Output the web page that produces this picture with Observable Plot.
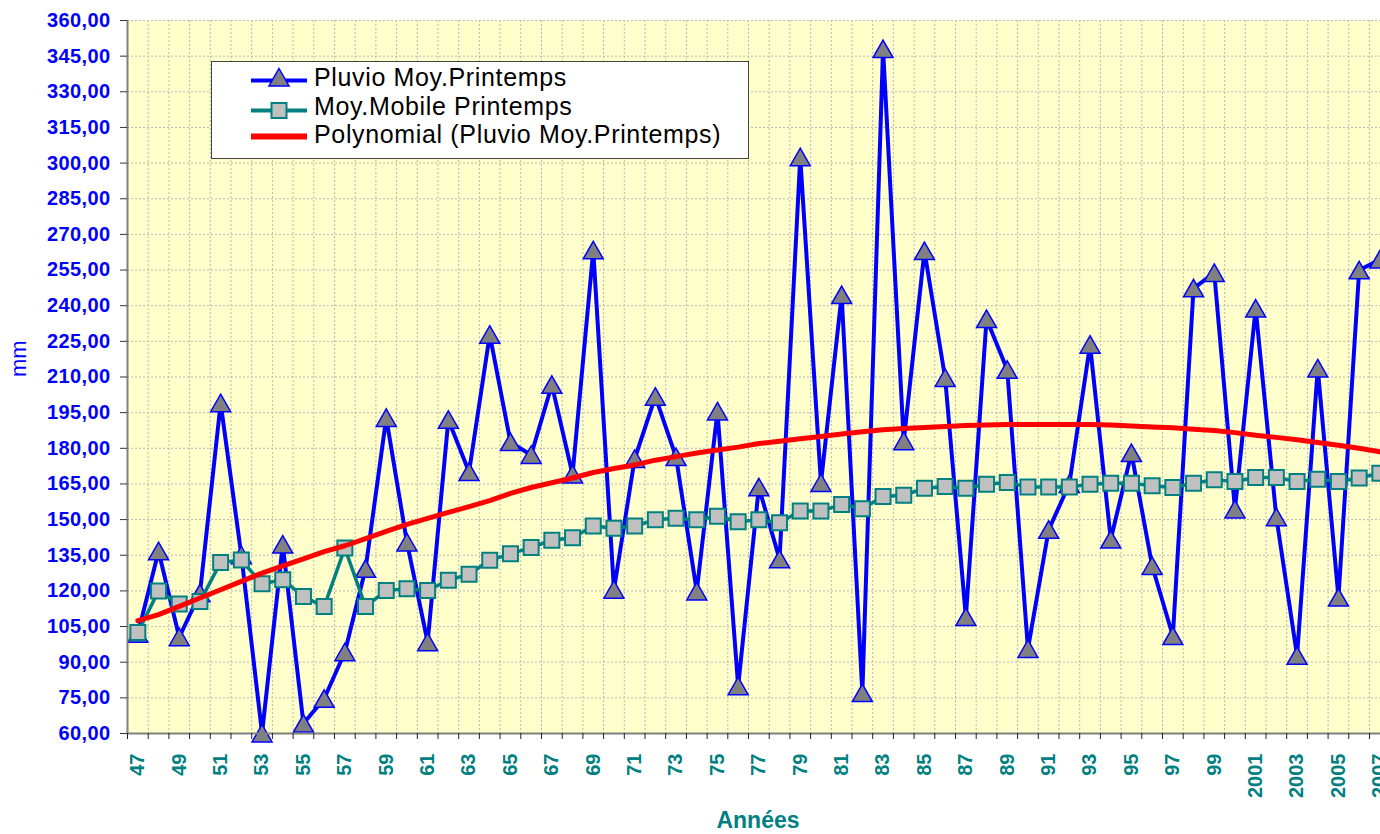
<!DOCTYPE html>
<html><head><meta charset="utf-8">
<script src="https://cdn.jsdelivr.net/npm/d3@7"></script>
<script src="https://cdn.jsdelivr.net/npm/@observablehq/plot@0.6"></script>
<style>
html,body{margin:0;padding:0;background:#fff;overflow:hidden;}
#chart svg{overflow:hidden;display:block;}
</style></head><body><div id="chart"></div>
<script>
const years = [1947,1948,1949,1950,1951,1952,1953,1954,1955,1956,1957,1958,1959,1960,1961,1962,
  1963,1964,1965,1966,1967,1968,1969,1970,1971,1972,1973,1974,1975,1976,1977,
  1978,1979,1980,1981,1982,1983,1984,1985,1986,1987,1988,1989,1990,1991,1992,1993,
  1994,1995,1996,1997,1998,1999,2000,2001,2002,2003,2004,2005,2006,2007];

const pluvio = [102,136.7,100.5,119,199,135,60,139.5,64.2,74.6,94.2,129.3,192.8,140.4,98.4,192,
  170,227.8,182.6,177.2,206.7,169,263.3,120.5,175.5,201.7,176.3,119.8,195.5,79.9,163.6,
  133.3,302.5,165.4,244.5,77,348,183,263,209.6,109,234.4,213,95.6,145.7,165,223.6,
  141.6,178,130.5,101,247.3,253.8,154.3,238.8,151,92.7,213.6,117.2,254.9,259.4];

const moyMobile = [102.5,120,114.5,115.5,132,133,123,124.7,117.6,113.4,138,113.4,120.2,120.9,120.2,124.5,
  127,132.9,135.6,138.3,141.3,142.4,147.3,146.4,147.3,149.9,150.6,149.9,151.4,149.1,149.9,
  148.7,153.6,153.6,156.4,154.6,159.7,160.2,163.2,163.9,163.2,164.9,165.6,163.7,163.7,163.7,164.9,
  165.3,165.3,164.2,163.5,165.3,166.8,166,167.7,167.7,166,167,166,167.5,169.5];

const polynomial = [107.5,110,113.5,117,120.5,124,127.5,130.5,133.5,136.5,139,142,145,148,150.5,153,
  155.5,158,161,163.5,165.5,167.5,169.8,171.5,173,175,176.5,178,179.3,180.5,182,
  183,184,185,186,187,187.8,188.3,188.8,189.2,189.6,189.8,190,190,190,190,190,
  189.8,189.4,189,188.6,188,187.5,186.6,185.5,184.6,183.6,182.4,181.3,180,178.5];

const yTicks = [60,75,90,105,120,135,150,165,180,195,210,225,240,255,270,285,300,315,330,345,360];
const labelYears = [1947,1949,1951,1953,1955,1957,1959,1961,1963,1965,1967,1969,1971,1973,1975,1977,
  1979,1981,1983,1985,1987,1989,1991,1993,1995,1997,1999,2001,2003,2005,2007];
const seriesNames = ["Pluvio Moy.Printemps","Moy.Mobile Printemps","Polynomial (Pluvio Moy.Printemps)"];

const data = years.map((y,i)=>({year:y, pluvio:pluvio[i], moy:moyMobile[i], poly:polynomial[i]}));
const bounds = years.map(y=>y-0.5).concat([years[years.length-1]+0.5]);
const fmtYear = y => y < 2000 ? String(y).slice(2) : String(y);

const tri = {draw(ctx){ ctx.moveTo(0,-9); ctx.lineTo(10,8.5); ctx.lineTo(-10,8.5); ctx.closePath(); }};
const sq = {draw(ctx){ ctx.rect(-7.5,-7.5,15,15); }};

const F = "Arial, 'Liberation Sans', sans-serif";
const band = 20.7;
const chart = Plot.plot({
  width:1380, height:834,
  marginLeft:127, marginRight:0, marginTop:20, marginBottom:101,
  style:{fontFamily:F, background:"#fff", overflow:"hidden"},
  x:{type:"linear", domain:[bounds[0], bounds[bounds.length-1]], range:[127, 127+61*band]},
  y:{domain:[60,360]},
  marks:[
    Plot.frame({fill:"#FFFFCC", stroke:null}),
    Plot.gridX(bounds, {stroke:"#b8b8b8", strokeOpacity:1, strokeWidth:1, strokeDasharray:"2,2"}),
    Plot.gridY(yTicks, {stroke:"#b8b8b8", strokeOpacity:1, strokeWidth:1, strokeDasharray:"2,2"}),
    Plot.line(data, {x:"year", y:"pluvio", stroke:"#0000FF", strokeWidth:4}),
    Plot.dot(data, {x:"year", y:"pluvio", symbol:tri, fill:"#808080", stroke:"#0000FF", strokeWidth:1.5}),
    Plot.line(data, {x:"year", y:"moy", stroke:"#008080", strokeWidth:3.5}),
    Plot.dot(data, {x:"year", y:"moy", symbol:sq, fill:"#C0C0C0", stroke:"#008080", strokeWidth:2}),
    Plot.line(data, {x:"year", y:"poly", stroke:"#FF0000", strokeWidth:5}),
    Plot.ruleY([60], {stroke:"#808080", strokeWidth:2}),
    Plot.ruleX([bounds[0]], {stroke:"#808080", strokeWidth:2}),
    Plot.axisY(yTicks, {tickFormat:d=>d.toFixed(2).replace(".",","), fill:"#0000FF", fontWeight:"bold", fontSize:20, tickSize:7, tickPadding:10, stroke:"#333", label:null}),
    Plot.axisX(bounds, {tickSize:6, tickFormat:()=>"", stroke:"#222", label:null}),
    Plot.axisX(labelYears, {tickSize:0, tickPadding:20, tickRotate:-90, tickFormat:fmtYear, fill:"#008080", fontWeight:"bold", fontSize:20, label:null}),
    Plot.text(["mm"], {frameAnchor:"left", dx:-109, rotate:-90, fill:"#0000FF", fontSize:22}),
    Plot.text(["Années"], {frameAnchor:"bottom", lineAnchor:"middle", dx:4, dy:87, fill:"#008080", fontSize:23, fontWeight:"bold"})
  ]
});
document.getElementById("chart").appendChild(chart);

// y tick labels a little wider, as in the reference
d3.select(chart).selectAll("g[aria-label='y-axis tick label'] text").attr("letter-spacing","0.4px");

// legend
const svg = d3.select(chart);
const lg = svg.append("g").attr("font-family", F).attr("text-anchor","start");
lg.append("rect").attr("x",211.5).attr("y",61.5).attr("width",537).attr("height",97)
  .attr("fill","#fff").attr("stroke","#444").attr("stroke-width",1);
const rows = [
  {name:seriesNames[0], y:80.5, color:"#0000FF", w:4, mark:"tri", ty:86},
  {name:seriesNames[1], y:110.5, color:"#008080", w:4, mark:"sq", ty:115},
  {name:seriesNames[2], y:136.5, color:"#FF0000", w:6, mark:null, ty:143}
];
rows.forEach(r=>{
  lg.append("line").attr("x1",251).attr("x2",307).attr("y1",r.y).attr("y2",r.y)
    .attr("stroke",r.color).attr("stroke-width",r.w);
  if(r.mark==="tri"){
    lg.append("path").attr("d","M0,-9L10,8.5L-10,8.5Z").attr("transform",`translate(279,${r.y-3})`)
      .attr("fill","#808080").attr("stroke","#0000FF").attr("stroke-width",1.5);
  } else if(r.mark==="sq"){
    lg.append("rect").attr("x",271.5).attr("y",r.y-7.5).attr("width",15).attr("height",15)
      .attr("fill","#C0C0C0").attr("stroke","#008080").attr("stroke-width",2);
  }
  lg.append("text").attr("x",314).attr("y",r.ty).attr("font-size",25).attr("fill","#000")
    .attr("letter-spacing","0.65px").attr("text-anchor","start").text(r.name);
});
</script></body></html>
